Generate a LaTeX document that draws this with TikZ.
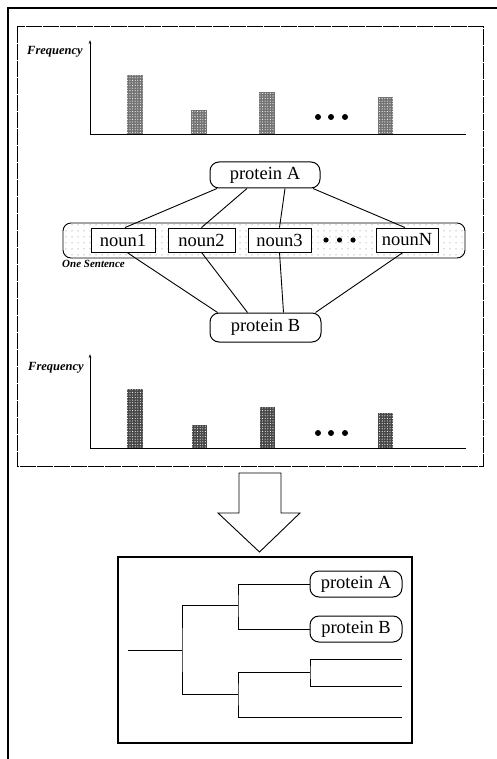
\documentclass[tikz,border=0pt]{standalone}
\usepackage{fontspec}
\setmainfont{Liberation Serif}
\usetikzlibrary{patterns.meta,arrows.meta}

\begin{document}
\begin{tikzpicture}[x=1pt,y=-1pt,
  outerframe/.style={line width=1.1pt},
  panelframe/.style={line width=1pt, dash pattern=on 16pt off 1pt},
  axisline/.style={line width=0.9pt},
  barlight/.style={fill=black!55},
  bardark/.style={fill=black!72},
  bardots/.style={pattern={Dots[distance=2.6pt,radius=0.55pt]}, pattern color=white},
  freqlabel/.style={font=\fontsize{12.5}{14}\selectfont\bfseries\itshape, inner sep=0pt},
  protein/.style={draw, line width=1pt, rounded corners=9pt, fill=white,
    font=\fontsize{18.5}{20}\selectfont, inner sep=0pt},
  noun/.style={draw, line width=0.9pt, fill=white, minimum height=24pt,
    font=\fontsize{18.5}{20}\selectfont, inner sep=0pt},
  link/.style={line width=0.9pt},
  branch/.style={line width=0.8pt},
  sentence/.style={line width=0.9pt, rounded corners=8pt,
    pattern={Dots[distance=6pt,radius=0.5pt]}, pattern color=black!60},
]
\useasboundingbox (0,0) rectangle (497,759);

% outer frame (open to the right and below)
\draw[outerframe] (8,759) -- (8,8) -- (497,8);

% dashed panel holding the two frequency charts
\draw[panelframe] (17,27) rectangle (483,466);

% ---- upper frequency chart ----
\node[freqlabel] (f1) at (55,52) {Frequency};
\coordinate (o1) at (90,134);
\coordinate (y1) at (90,40);
\coordinate (x1) at (466,134);
\foreach \a/\b/\t in {127/143/75, 191/207/110, 259/275/92, 378/393/97} {
  \fill[barlight] (\a,134) rectangle (\b,\t);
  \fill[bardots] (\a,134) rectangle (\b,\t);
}
\draw[axisline, -{Stealth[length=4pt,width=2.5pt]}] (o1) -- (y1);
\draw[axisline] (o1) -- (x1);
\foreach \x in {318,331,345} \fill (\x,117) circle (3pt);

% ---- co-occurrence in one sentence ----
\draw[sentence] (63,223) rectangle (465,258);
\node[anchor=west, font=\fontsize{11}{12}\selectfont\bfseries\itshape, inner sep=0pt]
  (sent) at (62,264) {One Sentence};

\node[noun, minimum width=64pt] (n1) at (123,240) {noun1};
\node[noun, minimum width=67pt] (n2) at (201.5,240) {noun2};
\node[noun, minimum width=63pt] (n3) at (279.5,240) {noun3};
\node[noun, minimum width=62pt] (nN) at (407,240) {nounN};
\foreach \x in {326,339.5,353} \fill (\x,240) circle (2.6pt);

\node[protein, minimum width=110pt, minimum height=26pt] (pA) at (265,175) {protein A};
\node[protein, minimum width=111pt, minimum height=29pt] (pB) at (265.5,327.5) {protein B};

\draw[link] ([xshift=-48pt]pA.south) -- ([xshift=2pt]n1.north);
\draw[link] ([xshift=-18pt]pA.south) -- (n2.north);
\draw[link] ([xshift=20pt]pA.south) -- (n3.north);
\draw[link] ([xshift=48pt]pA.south) -- ([xshift=-2pt]nN.north);

\draw[link] ([xshift=4pt]n1.south) -- ([xshift=-48pt]pB.north);
\draw[link] (n2.south) -- ([xshift=-18pt]pB.north);
\draw[link] (n3.south) -- ([xshift=18pt]pB.north);
\draw[link] ([xshift=-4pt]nN.south) -- ([xshift=50pt]pB.north);

% ---- lower frequency chart ----
\node[freqlabel] (f2) at (56,368) {Frequency};
\coordinate (o2) at (90,448);
\coordinate (y2) at (90,354);
\coordinate (x2) at (466,448);
\foreach \a/\b/\t in {127/143/389, 192/207/425, 260/275/407, 378/393/413} {
  \fill[bardark] (\a,448) rectangle (\b,\t);
  \fill[bardots] (\a,448) rectangle (\b,\t);
}
\draw[axisline, -{Stealth[length=4pt,width=2.5pt]}] (o2) -- (y2);
\draw[axisline] (o2) -- (x2);
\foreach \x in {318,331,345} \fill (\x,433) circle (3pt);

% ---- block arrow ----
\draw[line width=0.9pt, fill=white]
  (239,473) -- (281,473) -- (281,513) -- (300,513) -- (259.5,552)
  -- (218,513) -- (239,513) -- cycle;

% ---- resulting dendrogram ----
\draw[line width=1.8pt] (118,557) rectangle (412,743);

\node[protein, minimum width=92pt, minimum height=26pt] (tA) at (356,584) {protein A};
\node[protein, minimum width=92pt, minimum height=26pt] (tB) at (356,629) {protein B};

\coordinate (root) at (128,650);
\coordinate (j1) at (182,650);
\coordinate (j2) at (238,605);
\coordinate (j3) at (238,694);
\coordinate (j4) at (310,672);
\coordinate (l1) at (402,659);
\coordinate (l2) at (402,686);
\coordinate (l3) at (402,717);

\draw[branch] (root) -- (j1);
\draw[branch] (j2) -| (j1) |- (j3);
\draw[branch] (tA.west) -| (j2) |- (tB.west);
\draw[branch] (j4) -| (j3) |- (l3);
\draw[branch] (l1) -| (j4) |- (l2);
\end{tikzpicture}
\end{document}
